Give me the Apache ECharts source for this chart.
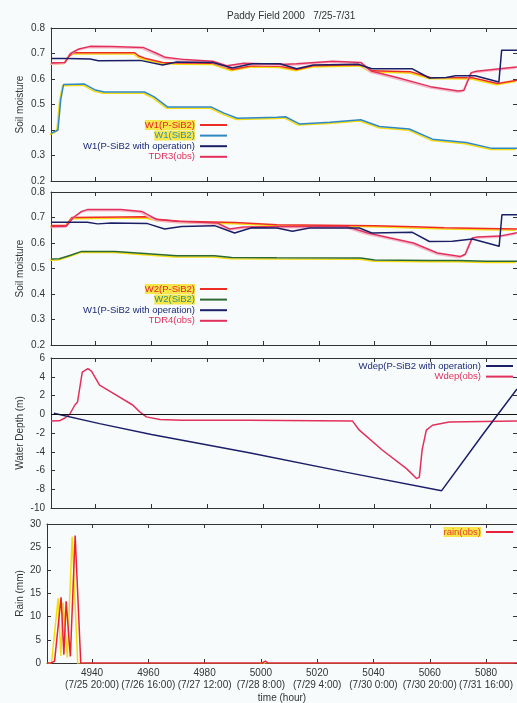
<!DOCTYPE html>
<html>
<head>
<meta charset="utf-8">
<script src="https://cdn.jsdelivr.net/npm/echarts@6.0.0/dist/echarts.min.js"></script>
<style>
  html, body { margin: 0; padding: 0; background: #f8fbfc; }
  #chart { width: 517px; height: 703px; }
</style>
</head>
<body>
<div id="chart"></div>
<script>
// x axis (hours)
const X_MIN = 4924
const X_MAX = 5091
const xTicks = [4940, 4960, 4980, 5000, 5020, 5040, 5060, 5080]
const xDateLabels = ['(7/25 20:00)', '(7/26 16:00)', '(7/27 12:00)', '(7/28 8:00)',
  '(7/29 4:00)', '(7/30 0:00)', '(7/30 20:00)', '(7/31 16:00)']

// panel 1: layer 1 soil moisture [hour, value]
const w1PSiB2 = [[4924, 0.663], [4929, 0.665], [4930.5, 0.69], [4932, 0.703], [4954, 0.703], [4955.5, 0.69],
  [4958, 0.68], [4964, 0.665], [4970, 0.663], [4982, 0.662], [4989, 0.637], [4996, 0.652], [5006, 0.65],
  [5012, 0.637], [5018, 0.652], [5035, 0.656], [5039, 0.632], [5053, 0.628], [5060, 0.606], [5075, 0.605],
  [5084, 0.582], [5091, 0.595]]
const w1SiB2 = [[4924, 0.387], [4926.5, 0.40], [4927.5, 0.52], [4928.5, 0.578], [4936, 0.58], [4939.6, 0.558],
  [4943, 0.549], [4957.5, 0.549], [4961, 0.53], [4965.8, 0.49], [4981.5, 0.49], [4986, 0.466], [4990.8, 0.446],
  [5005, 0.45], [5008, 0.452], [5013, 0.424], [5024, 0.43], [5035, 0.44], [5041.7, 0.414], [5052.4, 0.404],
  [5060.7, 0.364], [5072.8, 0.351], [5082, 0.328], [5091, 0.328]]
const w1Operation = [[4924, 0.68], [4930, 0.68], [4938, 0.678], [4941, 0.672], [4956, 0.673], [4964, 0.655],
  [4969, 0.667], [4982, 0.665], [4989, 0.643], [4996, 0.66], [5006, 0.66], [5012, 0.64], [5018, 0.655],
  [5034, 0.658], [5039, 0.64], [5053.5, 0.64], [5059.6, 0.604], [5065.6, 0.606], [5069, 0.613], [5076, 0.613],
  [5084.5, 0.588], [5085.5, 0.713], [5091, 0.713]]
const tdr3Obs = [[4924, 0.663], [4929, 0.665], [4931, 0.70], [4934, 0.718], [4938, 0.728], [4946, 0.727],
  [4957, 0.724], [4962, 0.70], [4965, 0.685], [4972, 0.676], [4982, 0.67], [4987, 0.652], [4993, 0.662],
  [5000, 0.66], [5008, 0.658], [5012, 0.66], [5025, 0.67], [5035, 0.665], [5039, 0.63], [5048, 0.606],
  [5060, 0.57], [5070, 0.553], [5072, 0.556], [5074.6, 0.625], [5076.4, 0.63], [5089, 0.645], [5091, 0.647]]

// panel 2: layer 2 soil moisture
const w2PSiB2 = [[4924, 0.669], [4929.5, 0.67], [4931.5, 0.70], [4958, 0.703], [4962, 0.693], [4970, 0.685],
  [4990, 0.68], [5005, 0.672], [5040, 0.668], [5054, 0.664], [5065, 0.66], [5080, 0.657], [5091, 0.655]]
const w2SiB2 = [[4924, 0.537], [4927, 0.538], [4931, 0.552], [4935, 0.567], [4947, 0.567], [4957.5, 0.559],
  [4969, 0.55], [4982.6, 0.55], [4988.7, 0.543], [5005, 0.542], [5035, 0.541], [5040, 0.533], [5060, 0.531],
  [5070, 0.531], [5080, 0.528], [5091, 0.528]]
const w1Operation2 = [[4924, 0.681], [4937, 0.681], [4940.7, 0.675], [4945.7, 0.678], [4958.6, 0.676],
  [4964.7, 0.655], [4970.8, 0.665], [4982.6, 0.668], [4989.8, 0.639], [4995.9, 0.66], [5005, 0.659],
  [5010.5, 0.646], [5016.6, 0.659], [5034.5, 0.659], [5039, 0.639], [5053.5, 0.642], [5059.6, 0.606],
  [5067.9, 0.607], [5075, 0.616], [5084.6, 0.587], [5085.6, 0.711], [5091, 0.711]]
const tdr4Obs = [[4924, 0.665], [4929.5, 0.666], [4932, 0.70], [4935, 0.724], [4937, 0.731], [4949, 0.731],
  [4956.5, 0.724], [4962, 0.692], [4969, 0.685], [4983.7, 0.678], [4988, 0.655], [4993, 0.663], [5007.7, 0.665],
  [5030, 0.665], [5037.5, 0.639], [5045.7, 0.62], [5053.9, 0.60], [5062.5, 0.561], [5070.7, 0.547],
  [5072.5, 0.556], [5075, 0.62], [5076.8, 0.624], [5084.6, 0.627], [5091, 0.64]]

// panel 3: water depth
const wdepOperation = [[4925, 0.1], [4941.4, -1.0], [4960, -2.15], [4995, -4.1], [5030, -6.2], [5064, -8.15],
  [5079, -2.06], [5091, 2.7]]
const wdepObs = [[4924, -0.71], [4927, -0.7], [4929, -0.4], [4930.7, 0], [4932.5, 0.96], [4933.5, 1.3],
  [4935.2, 4.5], [4937.2, 4.87], [4938.5, 4.6], [4941.4, 3.1], [4947.4, 2.03], [4953.4, 0.96], [4955.8, 0.25],
  [4958.2, -0.28], [4963, -0.57], [4971, -0.64], [4995, -0.64], [5032, -0.71], [5034.5, -1.7], [5042.8, -3.84],
  [5051.4, -5.8], [5055, -6.86], [5056, -6.7], [5057, -3.8], [5058.5, -1.7], [5060.7, -1.17], [5066.7, -0.82],
  [5091, -0.71]]

// panel 4: rain
const rainObs = [[4924, 0], [4925.5, 0], [4926.7, 0.4], [4929, 14.2], [4930, 1.8], [4930.8, 13.3],
  [4932.3, 1.4], [4934, 27.5], [4936, 0], [5000.5, 0], [5001.6, 0.4], [5002.5, 0], [5091, 0]]

const FONT = '"Liberation Sans", Arial, sans-serif'
const AXIS = '#333'
const YELLOW = '#f4dc10'

const grids = [
  { left: 51, right: 0, top: 28, height: 153, outerBoundsMode: 'none' },
  { left: 51, right: 0, top: 192, height: 153, outerBoundsMode: 'none' },
  { left: 51, right: 0, top: 358, height: 150, outerBoundsMode: 'none' },
  { left: 47, right: 0, top: 524, height: 139, outerBoundsMode: 'none' },
]

function xAxisFor(gridIndex, position, showLabels) {
  return {
    type: 'value', gridIndex, position, min: X_MIN, max: X_MAX,
    name: showLabels ? 'time (hour)' : '',
    nameLocation: 'middle', nameGap: 30, nameMoveOverlap: false,
    nameTextStyle: { color: AXIS, fontSize: 10, fontFamily: FONT },
    axisLine: { show: true, onZero: false, lineStyle: { color: AXIS, width: 1 } },
    axisTick: { show: true, inside: true, length: 4, customValues: xTicks, lineStyle: { color: AXIS } },
    axisLabel: {
      show: showLabels, customValues: xTicks, margin: 4,
      color: AXIS, fontSize: 10, fontFamily: FONT, lineHeight: 12,
      formatter: v => v + '\n' + xDateLabels[xTicks.indexOf(v)],
    },
    splitLine: { show: false },
  }
}

function yAxisFor(gridIndex, position, min, max, interval, name, nameGap, digits) {
  const left = position === 'left'
  return {
    type: 'value', gridIndex, position, min, max, interval,
    name: left ? name : '', nameLocation: 'middle', nameGap, nameMoveOverlap: false,
    nameTextStyle: { color: AXIS, fontSize: 10, fontFamily: FONT },
    axisLine: { show: true, onZero: false, lineStyle: { color: AXIS, width: 1 } },
    axisTick: { show: true, inside: true, length: 4, lineStyle: { color: AXIS } },
    axisLabel: { show: left, color: AXIS, fontSize: 10, fontFamily: FONT, margin: 6,
      formatter: v => v.toFixed(digits) },
    splitLine: { show: false },
  }
}

const xAxes = []
const yAxes = []
grids.forEach((g, i) => {
  xAxes.push(xAxisFor(i, 'bottom', i === 3))
  xAxes.push(xAxisFor(i, 'top', false))
})
yAxes.push(yAxisFor(0, 'left', 0.2, 0.8, 0.1, 'Soil moisture', 26, 1))
yAxes.push(yAxisFor(0, 'right', 0.2, 0.8, 0.1, '', 0, 1))
yAxes.push(yAxisFor(1, 'left', 0.2, 0.8, 0.1, 'Soil moisture', 26, 1))
yAxes.push(yAxisFor(1, 'right', 0.2, 0.8, 0.1, '', 0, 1))
yAxes.push(yAxisFor(2, 'left', -10, 6, 2, 'Water Depth (m)', 26, 0))
yAxes.push(yAxisFor(2, 'right', -10, 6, 2, '', 0, 0))
yAxes.push(yAxisFor(3, 'left', 0, 30, 5, 'Rain (mm)', 22, 0))
yAxes.push(yAxisFor(3, 'right', 0, 30, 5, '', 0, 0))

function line(name, data, panel, color, halo, dx) {
  const lineStyle = { color, width: 1.5 }
  if (halo) {
    lineStyle.shadowColor = halo
    lineStyle.shadowBlur = 0
    lineStyle.shadowOffsetX = dx == null ? -1.2 : dx
    lineStyle.shadowOffsetY = 1.2
  }
  return {
    type: 'line', name, data, xAxisIndex: panel * 2, yAxisIndex: panel * 2,
    symbol: 'none', animation: false, lineStyle, itemStyle: { color },
  }
}

const RED = '#ee2c22'
const TEAL = '#2f88c0'
const NAVY = '#1b1f66'
const PINK = '#e2305c'
const GREEN = '#2c6a34'

const series = [
  line('W1(SiB2)', w1SiB2, 0, TEAL, YELLOW),
  line('W1(P-SiB2)', w1PSiB2, 0, RED, YELLOW),
  line('TDR3(obs)', tdr3Obs, 0, PINK, '#f6b8c8'),
  line('W1(P-SiB2 with operation)', w1Operation, 0, NAVY),
  line('W2(SiB2)', w2SiB2, 1, GREEN, YELLOW),
  line('W2(P-SiB2)', w2PSiB2, 1, RED, YELLOW),
  line('TDR4(obs)', tdr4Obs, 1, PINK, '#f6b8c8'),
  line('W1(P-SiB2 with operation)', w1Operation2, 1, NAVY),
  Object.assign(line('Wdep(obs)', wdepObs, 2, PINK), {
    markLine: {
      silent: true, symbol: 'none', label: { show: false },
      lineStyle: { color: '#111', type: 'solid', width: 1.2 },
      data: [{ yAxis: 0 }],
    },
  }),
  line('Wdep(P-SiB2 with operation)', wdepOperation, 2, NAVY),
  line('rain(obs)', rainObs, 3, '#e8203a', YELLOW, -3),
]

const hl = (color) => ({ color, backgroundColor: '#f6e64a' })

function legendAt(right, top, data) {
  return {
    orient: 'vertical', align: 'right', right, top, padding: 0,
    icon: 'rect', itemWidth: 27, itemHeight: 2, itemGap: 0.6, selectedMode: false,
    textStyle: { fontSize: 9.5, fontFamily: FONT, lineHeight: 10 },
    data,
  }
}

const option = {
  backgroundColor: '#f8fbfc',
  animation: false,
  textStyle: { fontFamily: FONT },
  title: {
    text: 'Paddy Field 2000   7/25-7/31', left: 222, top: 6,
    textStyle: { fontSize: 10, fontWeight: 'normal', color: AXIS, fontFamily: FONT },
  },
  grid: grids,
  xAxis: xAxes,
  yAxis: yAxes,
  legend: [
    legendAt(290, 120, [
      { name: 'W1(P-SiB2)', textStyle: hl('#e8222a') },
      { name: 'W1(SiB2)', textStyle: hl('#2f8fb0') },
      { name: 'W1(P-SiB2 with operation)', textStyle: { color: '#1c2a78' } },
      { name: 'TDR3(obs)', textStyle: { color: '#e2305c' } },
    ]),
    legendAt(290, 284, [
      { name: 'W2(P-SiB2)', textStyle: hl('#e8222a') },
      { name: 'W2(SiB2)', textStyle: hl('#2f8f70') },
      { name: 'W1(P-SiB2 with operation)', textStyle: { color: '#1c2a78' } },
      { name: 'TDR4(obs)', textStyle: { color: '#e2305c' } },
    ]),
    legendAt(4, 361, [
      { name: 'Wdep(P-SiB2 with operation)', textStyle: { color: '#1c2a78' } },
      { name: 'Wdep(obs)', textStyle: { color: '#e2305c' } },
    ]),
    legendAt(4, 527, [
      { name: 'rain(obs)', textStyle: hl('#e8402a') },
    ]),
  ],
  series,
}

const chart = echarts.init(document.getElementById('chart'), null, { renderer: 'canvas' })
chart.setOption(option)
</script>
</body>
</html>
